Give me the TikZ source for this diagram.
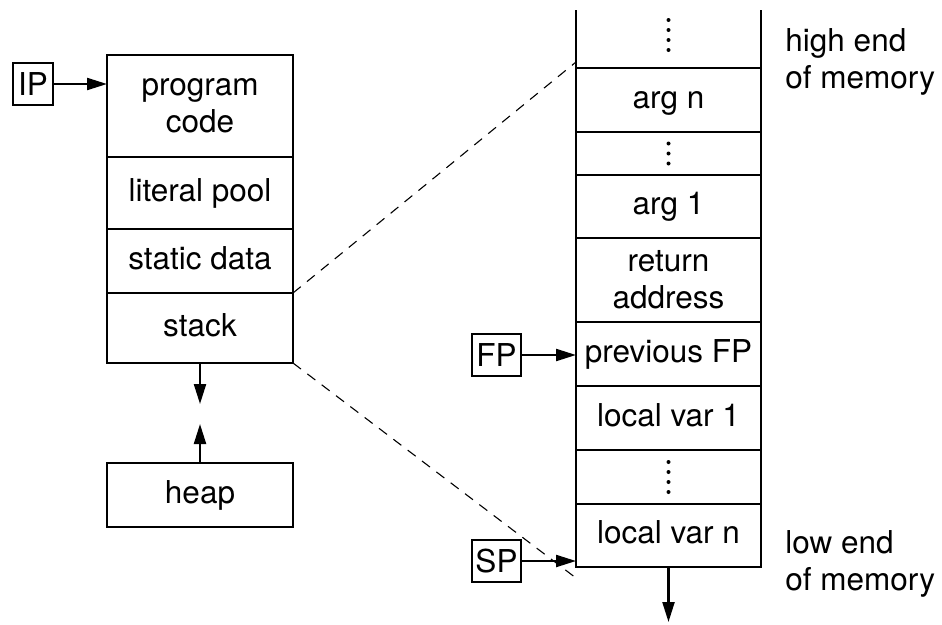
\documentclass[tikz,border=0pt]{standalone}
\usepackage{fontspec}
\setmainfont{TeX Gyre Heros}
\usetikzlibrary{arrows.meta}
\begin{document}
\begin{tikzpicture}[x=1pt,y=-1pt,
  line width=2.2pt,
  every node/.style={font=\fontsize{31.5}{37}\selectfont},
  cell/.style={draw,inner sep=0pt,outer sep=0pt,minimum height=#1,align=center},
  leftcell/.style={cell=#1,minimum width=186pt},
  rightcell/.style={cell=#1,minimum width=185pt},
  oneline/.style={text height=22.6pt,text depth=6.6pt},
  regbox/.style={draw,inner sep=0pt,minimum height=42pt,text height=22.6pt,text depth=0pt},
  ptr/.style={-{Triangle[length=20pt,width=12pt]}},
  zoomline/.style={line width=1.1pt,dash pattern=on 10pt off 8pt},
  dot/.style={fill,circle,inner sep=0pt,minimum size=4pt}]
\useasboundingbox (0,0) rectangle (942,624);

% memory layout of the whole program
\node[leftcell=102pt] (pc)   at (200,106) {program\\code};
\node[leftcell=72pt,oneline] (lit)  at (200,193) {literal pool};
\node[leftcell=64pt,oneline] (stat) at (200,261) {static data};
\node[leftcell=70pt,oneline] (stk)  at (200,328) {stack};
\node[leftcell=64pt,oneline] (heap) at (200,495) {heap};

% instruction pointer
\node[regbox,minimum width=40pt] (ip) at (33,84) {IP};
\draw[ptr] (ip.east) -- (ip.east -| pc.west);

% stack and heap growing toward each other
\coordinate (stkend) at (200,404);
\coordinate (heapend) at (200,424);
\draw[ptr] (stk.south) -- (stkend);
\draw[ptr] (heap.north) -- (heapend);

% one stack frame, enlarged
\node[rightcell=64pt,oneline] (argn) at (668.5,100)   {arg n};
\node[rightcell=43pt]         (dtwo) at (668.5,153.5) {};
\node[rightcell=63pt,oneline] (argone) at (668.5,206.5) {arg 1};
\node[rightcell=84pt]         (ret)  at (668.5,280)   {return\\address};
\node[rightcell=64pt,oneline] (pfp)  at (668.5,354)   {previous FP};
\node[rightcell=64pt,oneline] (lvone) at (668.5,418)  {local var 1};
\node[rightcell=54pt]         (dthree) at (668.5,477) {};
\node[rightcell=63pt,oneline] (lvn)  at (668.5,535.5) {local var n};

% open top of the stack region
\coordinate (topl) at (576,10);
\coordinate (topr) at (761,10);
\draw (topl) -- (argn.north west);
\draw (topr) -- (argn.north east);

% vertical ellipses
\foreach \y in {20,30,40,50} \node[dot] at (668.5,\y) {};
\foreach \dy in {-10,0,10} \node[dot] at ([yshift=\dy pt]dtwo.center) {};
\foreach \dy in {-15,-5,5,15} \node[dot] at ([yshift=\dy pt]dthree.center) {};

% frame and stack pointers
\node[regbox,minimum width=49pt] (fp) at (496.5,355) {FP};
\node[regbox,minimum width=49pt] (sp) at (496.5,561) {SP};
\draw[ptr] (fp.east) -- (fp.east -| pfp.west);
\draw[ptr] (sp.east) -- (sp.east -| lvn.west);

% stack keeps growing downward
\coordinate (growth) at (668.5,622);
\draw[ptr] (lvn.south) -- (growth);

% projection lines from the stack segment to the frame
\coordinate (zoomtop) at (576,62);
\coordinate (zoombot) at (576,578);
\draw[zoomline] (stk.north east) -- (zoomtop);
\draw[zoomline] (stk.south east) -- (zoombot);

% memory end labels
\node[anchor=base west,align=left] (high) at (781,88) {high end\\of memory};
\node[anchor=base west,align=left] (low) at (781,590) {low end\\of memory};
\end{tikzpicture}
\end{document}
